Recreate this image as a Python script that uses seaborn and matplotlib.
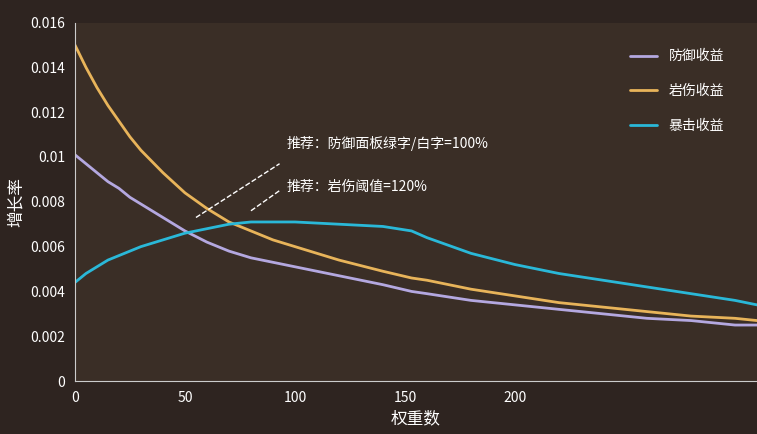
import matplotlib
matplotlib.use("Agg")
import matplotlib.pyplot as plt
import seaborn as sns
import pandas as pd

sns.set_style("dark")
plt.rcParams['font.family'] = ['Noto Sans CJK SC', 'DejaVu Sans']

x = [0, 5, 10, 15, 20, 25, 30, 40, 50, 60, 70, 80, 90, 100, 120, 140, 153, 160, 180, 200, 220, 240, 260, 280, 300, 310]
defense = [0.0101, 0.0097, 0.0093, 0.0089, 0.0086, 0.0082, 0.0079, 0.0073, 0.0067, 0.0062, 0.0058, 0.0055, 0.0053, 0.0051, 0.0047, 0.0043, 0.0040, 0.0039, 0.0036, 0.0034, 0.0032, 0.0030, 0.0028, 0.0027, 0.0025, 0.0025]
rock = [0.0150, 0.0140, 0.0131, 0.0123, 0.0116, 0.0109, 0.0103, 0.0093, 0.0084, 0.0077, 0.0071, 0.0067, 0.0063, 0.0060, 0.0054, 0.0049, 0.0046, 0.0045, 0.0041, 0.0038, 0.0035, 0.0033, 0.0031, 0.0029, 0.0028, 0.0027]
crit = [0.0044, 0.0048, 0.0051, 0.0054, 0.0056, 0.0058, 0.0060, 0.0063, 0.0066, 0.0068, 0.0070, 0.0071, 0.0071, 0.0071, 0.0070, 0.0069, 0.0067, 0.0064, 0.0057, 0.0052, 0.0048, 0.0045, 0.0042, 0.0039, 0.0036, 0.0034]
names = ["防御收益", "岩伤收益", "暴击收益"]
colors = ["#b4a8e0", "#e8b45a", "#2ab8d8"]

df = pd.DataFrame({"x": x * 3, "y": defense + rock + crit,
                   "s": [names[0]] * len(x) + [names[1]] * len(x) + [names[2]] * len(x)})

fig = plt.figure(figsize=(7.57, 4.34), dpi=100)
fig.patch.set_facecolor("#2e2420")
ax = fig.add_axes([0.099, 0.122, 0.901, 0.826])
ax.set_facecolor("#3a2e26")
sns.lineplot(data=df, x="x", y="y", hue="s", palette=colors, linewidth=2, ax=ax)
ax.set_xlim(0, 310)
ax.set_ylim(0, 0.016)
ax.set_xticks([0, 50, 100, 150, 200])
ax.set_yticks([0, 0.002, 0.004, 0.006, 0.008, 0.01, 0.012, 0.014, 0.016])
ax.set_yticklabels(["0", "0.002", "0.004", "0.006", "0.008", "0.01", "0.012", "0.014", "0.016"])
ax.tick_params(colors="white", labelsize=10)
ax.grid(False)
for s in ["top", "right"]:
    ax.spines[s].set_visible(False)
for s in ["left", "bottom"]:
    ax.spines[s].set_color("#cccccc")
    ax.spines[s].set_visible(True)
ax.set_xlabel("权重数", color="white", fontsize=12)
ax.set_ylabel("增长率", color="white", fontsize=12)
leg = ax.legend(loc="upper right", frameon=False, fontsize=10, labelspacing=1.5,
                bbox_to_anchor=(0.97, 0.96))
for t in leg.get_texts():
    t.set_color("white")
ax.plot([55, 93], [0.0073, 0.0097], ls="--", color="white", lw=1)
ax.plot([80, 93], [0.0076, 0.0085], ls="--", color="white", lw=1)
ax.text(96, 0.0104, "推荐：防御面板绿字/白字=100%", color="white", fontsize=10)
ax.text(96, 0.0085, "推荐：岩伤阈值=120%", color="white", fontsize=10)
fig.savefig("out.png", dpi=100, facecolor=fig.get_facecolor())
